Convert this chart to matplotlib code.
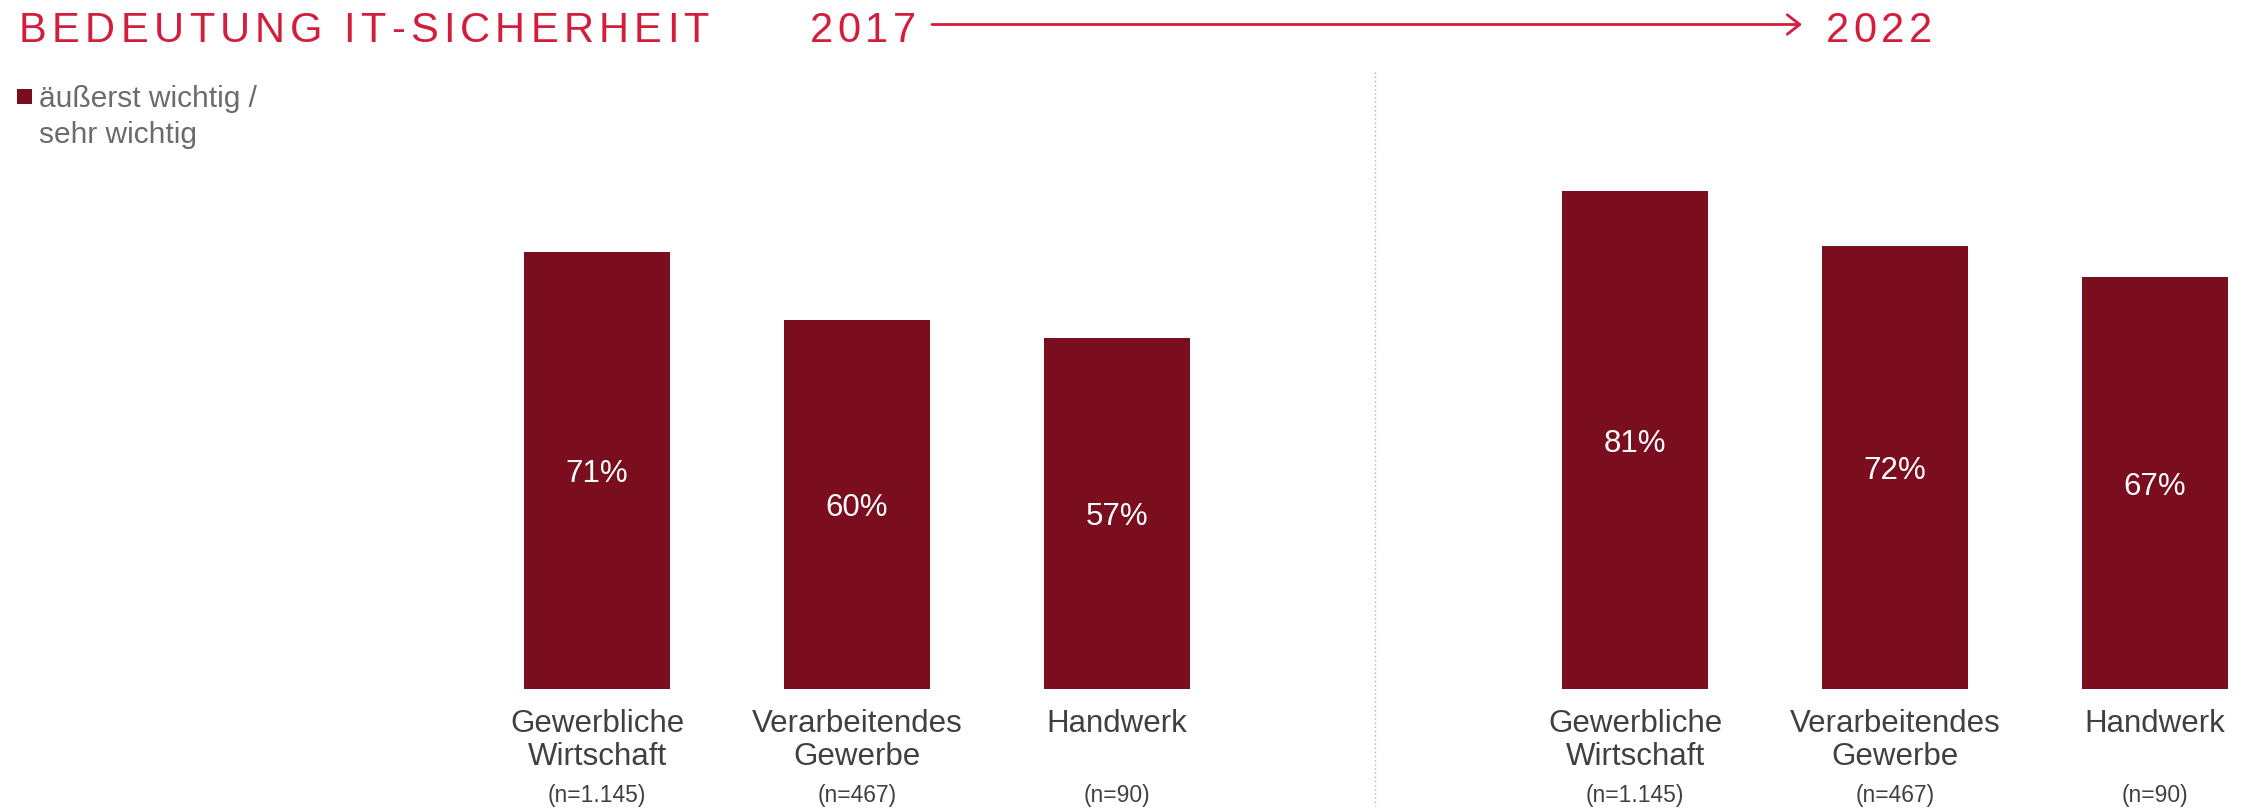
import matplotlib
matplotlib.use('Agg')
import matplotlib.pyplot as plt
from matplotlib.patches import FancyArrowPatch, Rectangle
from matplotlib.lines import Line2D
from matplotlib import font_manager

W, H = 2257, 808

# Daten
kategorien = [['Gewerbliche', 'Wirtschaft'], ['Verarbeitendes', 'Gewerbe'], ['Handwerk']]
stichprobe = ['(n=1.145)', '(n=467)', '(n=90)']
werte_2017 = [71, 60, 57]
werte_2022 = [81, 72, 67]
titel = 'BEDEUTUNG IT-SICHERHEIT'
jahr_start = '2017'
jahr_ende = '2022'
legende = ['äußerst wichtig /', 'sehr wichtig']

ROT = '#D21E3C'
BAR = '#7A0D1E'
GRAU = '#404040'

plt.rcParams['font.family'] = ['Liberation Sans', 'DejaVu Sans']
namen = set(f.name for f in font_manager.fontManager.ttflist)
schmal = 'Liberation Sans Narrow' if 'Liberation Sans Narrow' in namen else 'Liberation Sans'

fig = plt.figure(figsize=(W / 100, H / 100), dpi=100)


def px(x, y):
    # Pixel (y von oben) -> figure fraction
    return x / W, 1 - y / H


def panel(left_px, werte):
    ax = fig.add_axes([left_px / W, 1 - 689 / H, 3 * 260 / W, (689 - 74) / H])
    ax.bar(range(len(werte)), werte, width=0.56, color=BAR)
    ax.set_xlim(-0.5, 2.5)
    ax.set_ylim(0, 100)
    ax.axis('off')
    for i, v in enumerate(werte):
        ax.text(i, v / 2 - 0.6, f'{v}%', color='white', ha='center', va='center', fontsize=22.5)
        for j, zeile in enumerate(kategorien[i]):
            ax.text(i, -5.7 - j * 5.4, zeile, color=GRAU, ha='center', va='center',
                    fontsize=22.5, clip_on=False)
        ax.text(i, -17.3, stichprobe[i], color=GRAU, ha='center', va='center',
                fontsize=16.5, clip_on=False)
    return ax


panel(467, werte_2017)
panel(1505, werte_2022)


def gesperrt(text, x0, x1, y, size):
    r = fig.canvas.get_renderer()
    teile = [fig.text(0, 0, ch, fontsize=size, color=ROT, family=schmal, va='baseline')
             for ch in text]
    breiten = []
    for ch, t in zip(text, teile):
        if ch == ' ':
            breiten.append(0.25 * size * 100 / 72)
        else:
            breiten.append(t.get_window_extent(r).width)
    gap = (x1 - x0 - sum(breiten)) / (len(text) - 1)
    x = x0
    for t, b in zip(teile, breiten):
        t.set_position(px(x, y))
        x += b + gap


gesperrt(titel, 19, 709, 42, 30)
gesperrt(jahr_start, 810, 916, 42, 30)
gesperrt(jahr_ende, 1826, 1932, 42, 30)

pfeil = FancyArrowPatch(px(932, 24.5), px(1802, 24.5), transform=fig.transFigure,
                        arrowstyle='->,head_length=0.45,head_width=0.35', mutation_scale=20,
                        color=ROT, lw=2, shrinkA=0, shrinkB=0)
fig.add_artist(pfeil)

# Legende
fig.add_artist(Rectangle(px(17, 104), 15 / W, 15 / H, transform=fig.transFigure,
                         color=BAR, lw=0))
fig.text(*px(39, 99), legende[0], color='#6b6b6b', fontsize=21.5, va='center')
fig.text(*px(39, 135), legende[1], color='#6b6b6b', fontsize=21.5, va='center')

# Trennlinie
fig.add_artist(Line2D([1375 / W] * 2, [1 - 72 / H, 1 - 806 / H], transform=fig.transFigure,
                      ls=(0, (1, 2)), color='#b0b0b0', lw=1))

fig.savefig('out.png', dpi=100)
